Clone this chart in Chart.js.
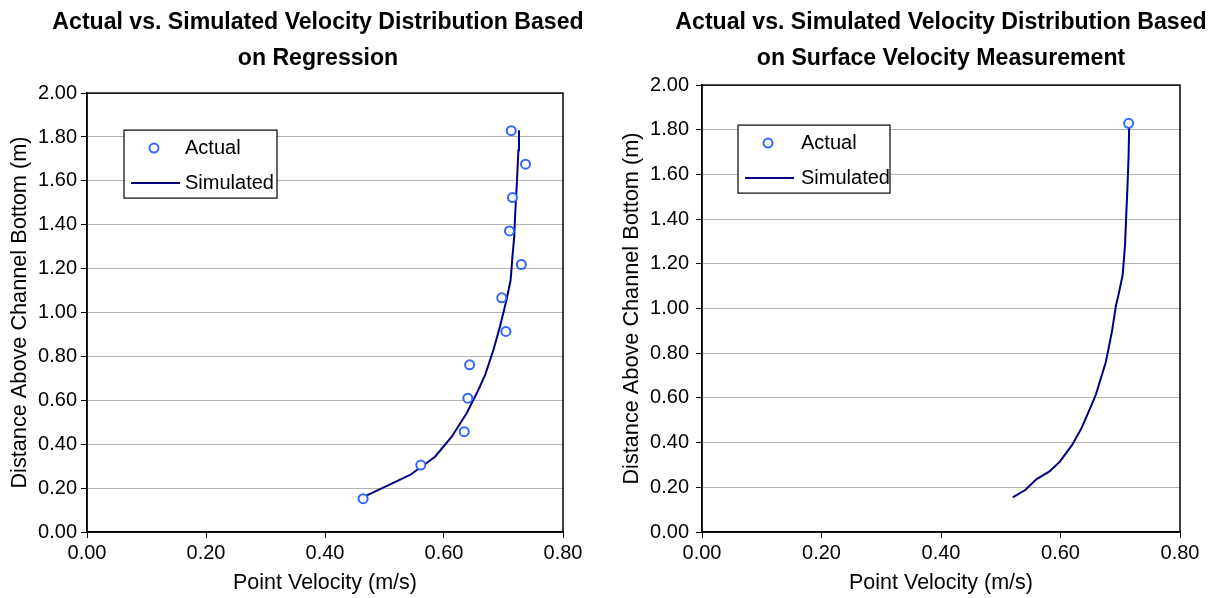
<!DOCTYPE html>
<html>
<head>
<meta charset="utf-8">
<script src="https://cdn.jsdelivr.net/npm/chart.js@4/dist/chart.umd.min.js"></script>
<style>
    html, body { margin: 0; padding: 0; background: #fff; overflow: hidden; }
    #wrap { position: relative; width: 1209px; height: 598px; overflow: hidden; }
    canvas { position: absolute; top: 0; }
    #leftChart { left: 0; }
    #rightChart { left: 604px; }
</style>
</head>
<body>
<div id="wrap">
    <canvas id="leftChart" width="636" height="598"></canvas>
    <canvas id="rightChart" width="674" height="598"></canvas>
</div>
<script>
// === DATA ===
const xTicks = [0, 0.2, 0.4, 0.6, 0.8];
const yTicks = [0, 0.2, 0.4, 0.6, 0.8, 1.0, 1.2, 1.4, 1.6, 1.8, 2.0];

// left: regression
const regActualDepth = [0.152, 0.305, 0.457, 0.610, 0.762, 0.914, 1.067, 1.219, 1.372, 1.524, 1.676, 1.829];
const regActualVel   = [0.464, 0.561, 0.634, 0.640, 0.643, 0.704, 0.697, 0.730, 0.710, 0.715, 0.737, 0.713];
const regSimDepth = [0.161, 0.260, 0.343, 0.434, 0.541, 0.632, 0.715, 0.829, 0.935, 1.057, 1.148, 1.254, 1.345, 1.467, 1.619, 1.740, 1.831];
const regSimVel   = [0.466, 0.543, 0.585, 0.613, 0.638, 0.655, 0.669, 0.683, 0.694, 0.705, 0.712, 0.715, 0.718, 0.720, 0.723, 0.725, 0.726];

// right: surface velocity measurement
const surfActualDepth = [1.829];
const surfActualVel   = [0.714];
const surfSimDepth = [0.155, 0.188, 0.237, 0.270, 0.315, 0.392, 0.464, 0.538, 0.613, 0.762, 0.896, 1.016, 1.060, 1.150, 1.284, 1.418, 1.538, 1.687, 1.829];
const surfSimVel   = [0.520, 0.541, 0.560, 0.581, 0.599, 0.620, 0.635, 0.647, 0.659, 0.676, 0.686, 0.693, 0.697, 0.704, 0.708, 0.710, 0.712, 0.714, 0.715];

const FONT = '"Liberation Sans", Arial, Helvetica, sans-serif';

function toPoints(xs, ys) {
    return xs.map((x, i) => ({ x: x, y: ys[i] }));
}

// box around the plot area
const framePlugin = {
    id: 'frame',
    beforeDatasetsDraw(chart) {
        const a = chart.chartArea;
        const ctx = chart.ctx;
        ctx.save();
        ctx.strokeStyle = '#000';
        ctx.lineWidth = 1.5;
        ctx.strokeRect(a.left, a.top, a.right - a.left, a.bottom - a.top);
        ctx.restore();
    }
};

// excel-like legend box inside the plot
const boxLegendPlugin = {
    id: 'boxLegend',
    afterDraw(chart, args, opts) {
        const a = chart.chartArea;
        const ctx = chart.ctx;
        const x = a.left + opts.dx, y = a.top + opts.dy;
        ctx.save();
        ctx.fillStyle = '#fff';
        ctx.fillRect(x, y, opts.w, opts.h);
        ctx.strokeStyle = '#000';
        ctx.lineWidth = 1.2;
        ctx.strokeRect(x, y, opts.w, opts.h);
        ctx.font = '20px ' + FONT;
        ctx.textBaseline = 'middle';
        chart.data.datasets.forEach((ds, i) => {
            const rowY = y + 18 + i * 35;
            ctx.strokeStyle = ds.borderColor;
            ctx.lineWidth = ds.borderWidth;
            ctx.beginPath();
            if (ds.showLine) {
                ctx.moveTo(x + 7, rowY);
                ctx.lineTo(x + 56, rowY);
            } else {
                ctx.arc(x + 30, rowY, ds.pointRadius, 0, Math.PI * 2);
            }
            ctx.stroke();
            ctx.fillStyle = '#000';
            ctx.fillText(ds.label, x + opts.textX, rowY);
        });
        ctx.restore();
    }
};

function makeChart(id, cfg) {
    const ctx = document.getElementById(id).getContext('2d');
    return new Chart(ctx, {
        type: 'scatter',
        data: {
            datasets: [
                {
                    label: 'Actual',
                    data: toPoints(cfg.actVel, cfg.actDepth),
                    xAxisID: 'x',
                    yAxisID: 'y',
                    showLine: false,
                    pointRadius: 4.5,
                    pointBorderWidth: 2,
                    borderWidth: 2,
                    borderColor: '#3366ff',
                    backgroundColor: '#ffffff'
                },
                {
                    label: 'Simulated',
                    data: toPoints(cfg.simVel, cfg.simDepth),
                    xAxisID: 'x',
                    yAxisID: 'y',
                    showLine: true,
                    pointRadius: 0,
                    borderColor: '#000080',
                    borderWidth: 2,
                    tension: 0
                }
            ]
        },
        options: {
            responsive: false,
            animation: false,
            devicePixelRatio: 1,
            layout: { padding: 0 },
            plugins: {
                legend: { display: false },
                tooltip: { enabled: false },
                title: {
                    display: true,
                    text: cfg.title,
                    color: '#000',
                    font: { family: FONT, size: 23.1, weight: 'bold', lineHeight: 1.55 },
                    padding: { top: 5, bottom: cfg.titleBottom }
                },
                boxLegend: cfg.legend
            },
            scales: {
                x: {
                    type: 'linear',
                    min: 0,
                    max: 0.8,
                    afterBuildTicks: s => { s.ticks = xTicks.map(v => ({ value: v })); },
                    afterFit: s => { s.height = 66; },
                    ticks: {
                        color: '#000',
                        font: { family: FONT, size: 20 },
                        padding: 3,
                        maxRotation: 0,
                        callback: v => Number(v).toFixed(2)
                    },
                    grid: { drawOnChartArea: false, tickLength: 6, tickColor: '#000' },
                    border: { color: '#000', width: 1.5 },
                    title: {
                        display: true,
                        text: 'Point Velocity (m/s)',
                        color: '#000',
                        font: { family: FONT, size: 21.5 },
                        padding: { top: 0, bottom: 2.5 }
                    }
                },
                y: {
                    type: 'linear',
                    min: 0,
                    max: 2,
                    afterBuildTicks: s => { s.ticks = yTicks.map(v => ({ value: v })); },
                    afterFit: s => { s.width = cfg.yWidth; },
                    ticks: {
                        color: '#000',
                        font: { family: FONT, size: 20 },
                        padding: cfg.yTickPad,
                        callback: v => Number(v).toFixed(2)
                    },
                    grid: { color: '#b4b4b4', lineWidth: 1, tickLength: 6, tickColor: '#000' },
                    border: { color: '#000', width: 1.5 },
                    title: {
                        display: true,
                        text: 'Distance Above Channel Bottom (m)',
                        color: '#000',
                        font: { family: FONT, size: 21.7 },
                        padding: { top: cfg.yTitlePad, bottom: 0 }
                    }
                },
                // empty spacer on the right so the title stays centred on the canvas
                yPad: {
                    type: 'linear',
                    position: 'right',
                    afterFit: s => { s.width = cfg.rightGap; },
                    ticks: { display: false },
                    grid: { display: false, drawTicks: false },
                    border: { display: false }
                }
            }
        },
        plugins: [framePlugin, boxLegendPlugin]
    });
}

document.addEventListener('DOMContentLoaded', () => {
    makeChart('leftChart', {
        title: ['Actual vs. Simulated Velocity Distribution Based', 'on Regression'],
        actVel: regActualVel, actDepth: regActualDepth,
        simVel: regSimVel, simDepth: regSimDepth,
        rightGap: 73, titleBottom: 16.5, yWidth: 87, yTickPad: 4, yTitlePad: 7,
        legend: { dx: 37, dy: 37, w: 153, h: 68, textX: 61 }
    });
    makeChart('rightChart', {
        title: ['Actual vs. Simulated Velocity Distribution Based', 'on Surface Velocity Measurement'],
        actVel: surfActualVel, actDepth: surfActualDepth,
        simVel: surfSimVel, simDepth: surfSimDepth,
        rightGap: 98, titleBottom: 8.5, yWidth: 98, yTickPad: 7, yTitlePad: 15,
        legend: { dx: 36, dy: 40, w: 152, h: 68, textX: 63 }
    });
});
</script>
</body>
</html>
